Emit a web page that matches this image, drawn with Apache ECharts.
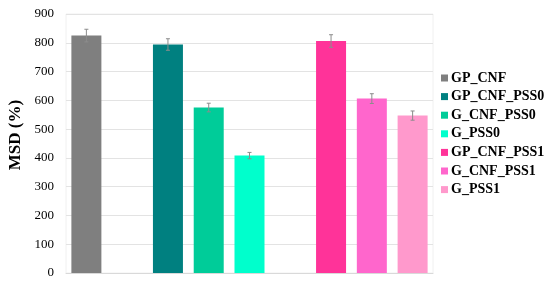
<!DOCTYPE html>
<html>
<head>
<meta charset="utf-8">
<script src="https://cdn.jsdelivr.net/npm/echarts@6/dist/echarts.min.js"></script>
<style>html,body{margin:0;padding:0;background:#fff;}#c{width:550px;height:286px;}</style>
</head>
<body>
<div id="c"></div>
<script>
var seriesNames = ['GP_CNF','GP_CNF_PSS0','G_CNF_PSS0','G_PSS0','GP_CNF_PSS1','G_CNF_PSS1','G_PSS1'];
var slots = [0, 2, 3, 4, 6, 7, 8];
var slotCount = 9;
var values = [825, 794, 575, 408, 806, 606, 547];
var errors = [22, 20, 15, 11, 22, 17, 16];
var colors = ['#7f7f7f','#008080','#00cc99','#00ffcc','#ff3399','#ff66cc','#ff99cc'];
var yTicks = [0,100,200,300,400,500,600,700,800,900];

var cats = [];
for (var i = 0; i < slotCount; i++) cats.push(String(i));

var series = seriesNames.map(function(n, k){
  var d = [];
  for (var i = 0; i < slotCount; i++) d.push('-');
  d[slots[k]] = values[k];
  return {
    name: n, type: 'bar', stack: 'all', barWidth: 30,
    itemStyle: {color: colors[k]},
    data: d
  };
});

var errData = values.map(function(v, k){ return [slots[k], v, errors[k]]; });
series.push({
  type: 'custom', name: 'err', silent: true, z: 10,
  renderItem: function(params, api){
    var x = api.value(0), v = api.value(1), e = api.value(2);
    var top = api.coord([x, v + e]);
    var bot = api.coord([x, v - e]);
    var st = {stroke: '#8c8c8c', lineWidth: 1};
    return {type: 'group', children: [
      {type: 'line', shape: {x1: top[0], y1: top[1], x2: bot[0], y2: bot[1]}, style: st},
      {type: 'line', shape: {x1: top[0]-2, y1: top[1], x2: top[0]+2, y2: top[1]}, style: st},
      {type: 'line', shape: {x1: bot[0]-2, y1: bot[1], x2: bot[0]+2, y2: bot[1]}, style: st}
    ]};
  },
  data: errData
});

var chart = echarts.init(document.getElementById('c'), null, {renderer: 'canvas'});
chart.setOption({
  animation: false,
  backgroundColor: '#fff',
  grid: {left: 66, right: 117, top: 14, bottom: 13, show: true, borderColor: '#f0f0f0', borderWidth: 1},
  xAxis: {
    type: 'category', data: cats,
    axisLine: {show: true, lineStyle: {color: '#d9d9d9'}},
    axisTick: {show: false}, axisLabel: {show: false}
  },
  yAxis: {
    type: 'value', min: yTicks[0], max: yTicks[yTicks.length-1], interval: 100,
    axisLine: {show: false}, axisTick: {show: false},
    axisLabel: {fontFamily: 'Liberation Serif', fontSize: 13, color: '#000', margin: 12},
    splitLine: {lineStyle: {color: '#e3e3e3'}}
  },
  legend: {
    orient: 'vertical', left: 436, top: 66,
    data: seriesNames,
    itemWidth: 7, itemHeight: 7, itemGap: 4.6,
    icon: 'rect',
    textStyle: {fontFamily: 'Liberation Serif', fontWeight: 'bold', fontSize: 14, color: '#000', lineHeight: 14, padding: [0,0,0,-2]}
  },
  graphic: [{
    type: 'text', x: 16, y: 135, rotation: Math.PI/2,
    style: {text: 'MSD (%)', font: 'bold 17px "Liberation Serif"', fill: '#000', textAlign: 'center', textVerticalAlign: 'middle'}
  }],
  series: series
});
</script>
</body>
</html>
